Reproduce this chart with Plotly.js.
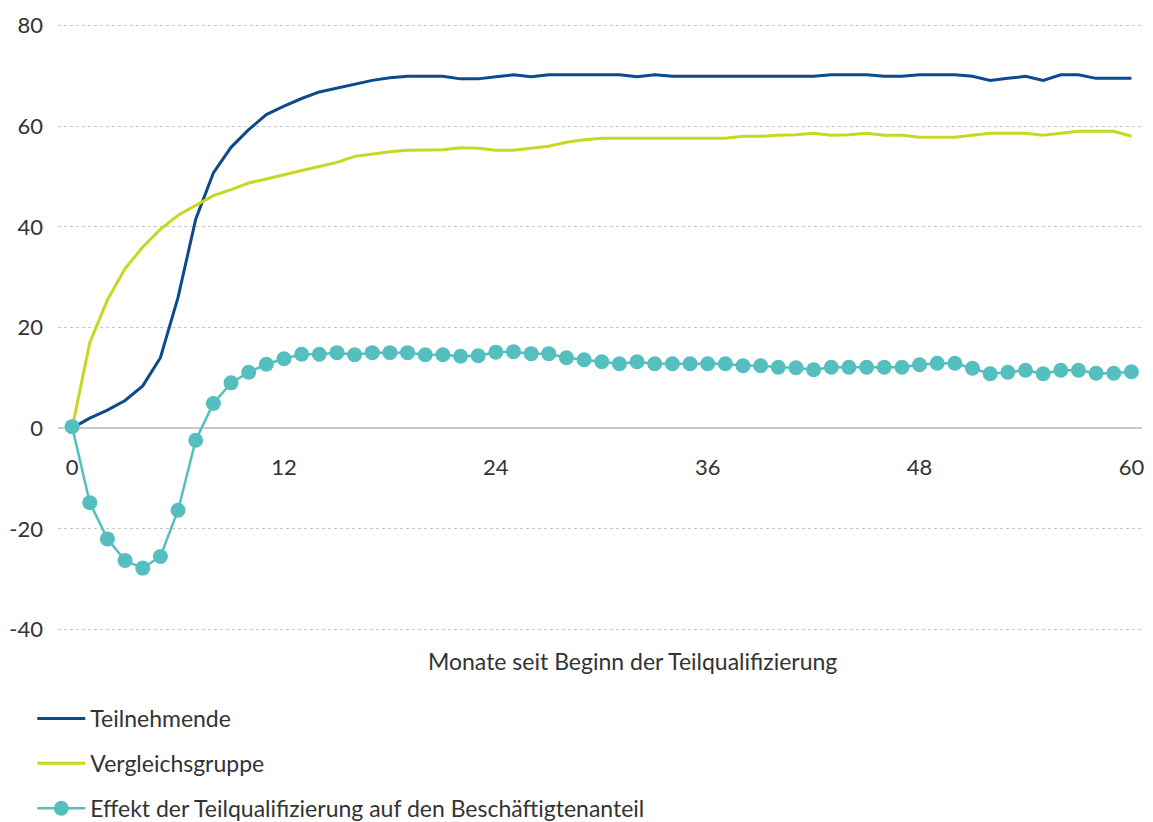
<!DOCTYPE html>
<html>
<head>
<meta charset="utf-8">
<script src="https://cdn.plot.ly/plotly-3.0.1.min.js"></script>
<style>
  html, body { margin: 0; padding: 0; background: #fff; }
  #chart { width: 1153px; height: 822px; }
</style>
</head>
<body>
<div id="chart"></div>
<script>
const months = Array.from({length: 61}, (_, i) => i);

const teilnehmende = [
  0, 2.0, 3.6, 5.5, 8.4, 14.0, 26.0, 41.5, 50.7, 55.8,
  59.3, 62.3, 64.0, 65.5, 66.8, 67.6, 68.4, 69.1, 69.6, 69.9,
  69.9, 69.9, 69.4, 69.4, 69.8, 70.2, 69.8, 70.2, 70.2, 70.2,
  70.2, 70.2, 69.8, 70.2, 69.9, 69.9, 69.9, 69.9, 69.9, 69.9,
  69.9, 69.9, 69.9, 70.2, 70.2, 70.2, 69.9, 69.9, 70.2, 70.2,
  70.2, 69.9, 69.1, 69.5, 69.9, 69.1, 70.2, 70.2, 69.5, 69.5,
  69.5
];

const vergleichsgruppe = [
  0, 17.0, 25.5, 31.7, 36.0, 39.5, 42.3, 44.3, 46.2, 47.4,
  48.7, 49.5, 50.4, 51.2, 52.0, 52.8, 54.0, 54.5, 54.9, 55.2,
  55.2, 55.3, 55.7, 55.6, 55.2, 55.2, 55.6, 56.0, 56.8, 57.3,
  57.6, 57.6, 57.6, 57.6, 57.6, 57.6, 57.6, 57.6, 58.0, 58.0,
  58.2, 58.3, 58.6, 58.2, 58.3, 58.6, 58.2, 58.2, 57.8, 57.8,
  57.8, 58.2, 58.6, 58.6, 58.6, 58.2, 58.6, 59.0, 59.0, 59.0,
  58.0
];

const effekt = [
  0.3, -14.8, -22.0, -26.3, -27.8, -25.5, -16.3, -2.4, 4.9, 9.0,
  11.1, 12.7, 13.8, 14.7, 14.7, 15.0, 14.6, 15.0, 15.0, 15.0,
  14.6, 14.6, 14.3, 14.4, 15.1, 15.2, 14.8, 14.8, 14.0, 13.6,
  13.2, 12.8, 13.2, 12.8, 12.8, 12.8, 12.8, 12.8, 12.4, 12.4,
  12.1, 12.0, 11.6, 12.1, 12.1, 12.1, 12.1, 12.1, 12.6, 12.9,
  12.9, 11.9, 10.8, 11.1, 11.5, 10.8, 11.5, 11.5, 10.9, 10.9,
  11.2
];

const xTickVals = [0, 12, 24, 36, 48, 60];
const xTickText = ["0", "12", "24", "36", "48", "60"];
const yTickVals = [-40, -20, 0, 20, 40, 60, 80];
const yTickText = ["-40", "-20", "0", "20", "40", "60", "80"];

const seriesNames = [
  "Teilnehmende",
  "Vergleichsgruppe",
  "Effekt der Teilqualifizierung auf den Beschäftigtenanteil"
];
const xTitle = "Monate seit Beginn der Teilqualifizierung";

const FONT = "Lato, 'Open Sans', sans-serif";
const TEXT = "#333333";
const yMin = -40.5, yMax = 80.5;

const traces = [
  {
    x: months, y: teilnehmende, name: seriesNames[0], legendgroup: "a",
    type: "scatter", mode: "lines",
    line: {color: "#0b4a8d", width: 3}
  },
  {
    x: months, y: vergleichsgruppe, name: seriesNames[1], legendgroup: "b",
    type: "scatter", mode: "lines",
    line: {color: "#c8d722", width: 3}
  },
  {
    x: months, y: effekt, name: seriesNames[2], legendgroup: "c",
    type: "scatter", mode: "lines+markers",
    line: {color: "#55bfc0", width: 2.5},
    marker: {color: "#55bfc0", size: 15}
  }
];

const layout = {
  width: 1153, height: 822,
  paper_bgcolor: "#ffffff", plot_bgcolor: "#ffffff",
  margin: {l: 58, r: 11, t: 23, b: 190, autoexpand: false},
  font: {family: FONT, size: 22, color: TEXT},
  hovermode: false,
  xaxis: {
    range: [-0.8, 60.6],
    tickvals: xTickVals, ticktext: xTickText,
    showgrid: false, zeroline: false, showline: false,
    anchor: "free", position: (0 - yMin) / (yMax - yMin),
    ticks: "", ticklabelstandoff: 24,
    tickfont: {family: FONT, size: 22, color: TEXT}
  },
  yaxis: {
    range: [yMin, yMax],
    tickvals: yTickVals, ticktext: yTickText,
    showgrid: true, gridcolor: "#c8c8c8", griddash: "dot", gridwidth: 1,
    zeroline: true, zerolinecolor: "#c9c9c9", zerolinewidth: 2,
    showline: false, ticks: "", ticklabelstandoff: 14,
    tickfont: {family: FONT, size: 22, color: TEXT}
  },
  showlegend: true,
  legend: {
    orientation: "v",
    xref: "container", yref: "container",
    x: 0.028, y: 1 - 697 / 822, xanchor: "left", yanchor: "top",
    font: {family: FONT, size: 23, color: TEXT},
    itemwidth: 48,
    tracegroupgap: 12,
    bgcolor: "rgba(0,0,0,0)"
  },
  annotations: [
    {
      text: xTitle, xref: "paper", yref: "paper",
      x: (632 - 58) / (1153 - 58 - 11), y: (822 - 190 - 661) / (822 - 23 - 190),
      xanchor: "center", yanchor: "middle", showarrow: false,
      font: {family: FONT, size: 23, color: TEXT}
    }
  ]
};

Plotly.newPlot("chart", traces, layout, {displayModeBar: false, staticPlot: true});
</script>
</body>
</html>
